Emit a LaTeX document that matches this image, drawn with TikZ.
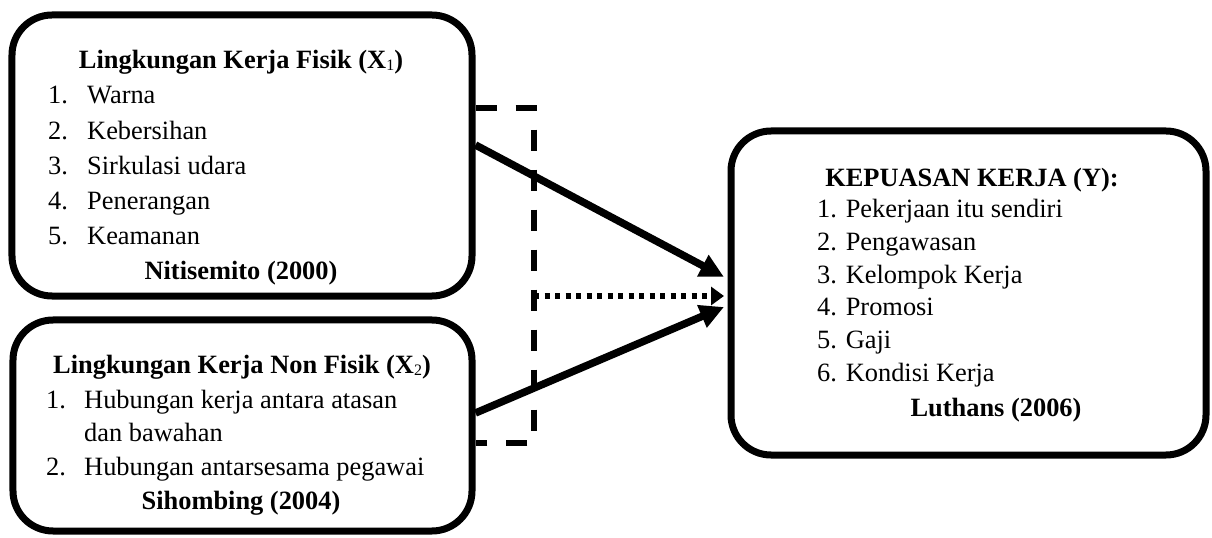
\documentclass[tikz,border=0pt]{standalone}
\usepackage{fontspec}
\setmainfont{Liberation Serif}
\usetikzlibrary{arrows.meta}
\newcommand{\subn}[1]{\raisebox{-1.5bp}{\fontsize{16}{16}\selectfont\mdseries #1}}
\begin{document}
\begin{tikzpicture}[x=1bp,y=-1bp,
  box/.style={draw,line width=7bp,rounded corners=40bp,inner sep=0pt},
  txt/.style={inner sep=0pt,anchor=base west,font=\fontsize{26.5}{33}\selectfont},
  ttl/.style={inner sep=0pt,anchor=base,font=\fontsize{26.5}{33}\selectfont\bfseries},
  arr/.style={line width=7.5bp,-{Triangle[length=24bp,width=23bp]}},
  dashln/.style={line width=6bp,dash pattern=on 21bp off 19bp},
  dotln/.style={line width=5.5bp,dash pattern=on 5bp off 5.5bp,-{Triangle[length=13bp,width=18bp]}}]
\useasboundingbox (0,0) rectangle (1212,538);
% boxes
\node[box,minimum width=460bp,minimum height=281bp] (b1) at (242,155.5) {};
\node[box,minimum width=459bp,minimum height=211bp] (b2) at (242.5,425.5) {};
\node[box,minimum width=475bp,minimum height=324bp] (b3) at (968.5,293) {};
% box 1 text
\node[ttl] (t1) at (241,69) {Lingkungan Kerja Fisik (X\subn{1})};
\node[txt] (a1) at (48,104) {\makebox[39bp][l]{1.}Warna};
\node[txt] (a2) at (48,139.5) {\makebox[39bp][l]{2.}Kebersihan};
\node[txt] (a3) at (48,175) {\makebox[39bp][l]{3.}Sirkulasi udara};
\node[txt] (a4) at (48,210) {\makebox[39bp][l]{4.}Penerangan};
\node[txt] (a5) at (48,245) {\makebox[39bp][l]{5.}Keamanan};
\node[ttl] (r1) at (241,280) {Nitisemito (2000)};
% box 2 text
\node[ttl] (t2) at (242,374) {Lingkungan Kerja Non Fisik (X\subn{2})};
\node[txt] (c1) at (46,408) {\makebox[38bp][l]{1.}Hubungan kerja antara atasan};
\node[txt] (c1b) at (84,441) {dan bawahan};
\node[txt] (c2) at (46,475) {\makebox[38bp][l]{2.}Hubungan antarsesama pegawai};
\node[ttl] (r2) at (241,509) {Sihombing (2004)};
% box 3 text
\node[ttl] (t3) at (972,187) {KEPUASAN KERJA (Y):};
\node[txt] (y1) at (817,218) {1. Pekerjaan itu sendiri};
\node[txt] (y2) at (817,251) {2. Pengawasan};
\node[txt] (y3) at (817,284) {3. Kelompok Kerja};
\node[txt] (y4) at (817,316) {4. Promosi};
\node[txt] (y5) at (817,349) {5. Gaji};
\node[txt] (y6) at (817,382) {6. Kondisi Kerja};
\node[ttl] (r3) at (996,416) {Luthans (2006)};
% dashed bracket
\coordinate (dt) at (534,108);
\coordinate (db) at (534,443);
\coordinate (dm) at (534,296);
\draw[dashln] (b1.east |- dt) -- (dt) -- (db) -- (b2.east |- db);
% arrows
\draw[arr] ([yshift=10.5bp]b1.east) -- ([yshift=16bp,xshift=-3.5bp]b3.west);
\draw[arr] ([yshift=12.5bp]b2.east) -- ([yshift=-14bp,xshift=-3.5bp]b3.west);
\draw[dotln] (dm) -- ([xshift=-3.5bp]b3.west |- dm);
\end{tikzpicture}
\end{document}
